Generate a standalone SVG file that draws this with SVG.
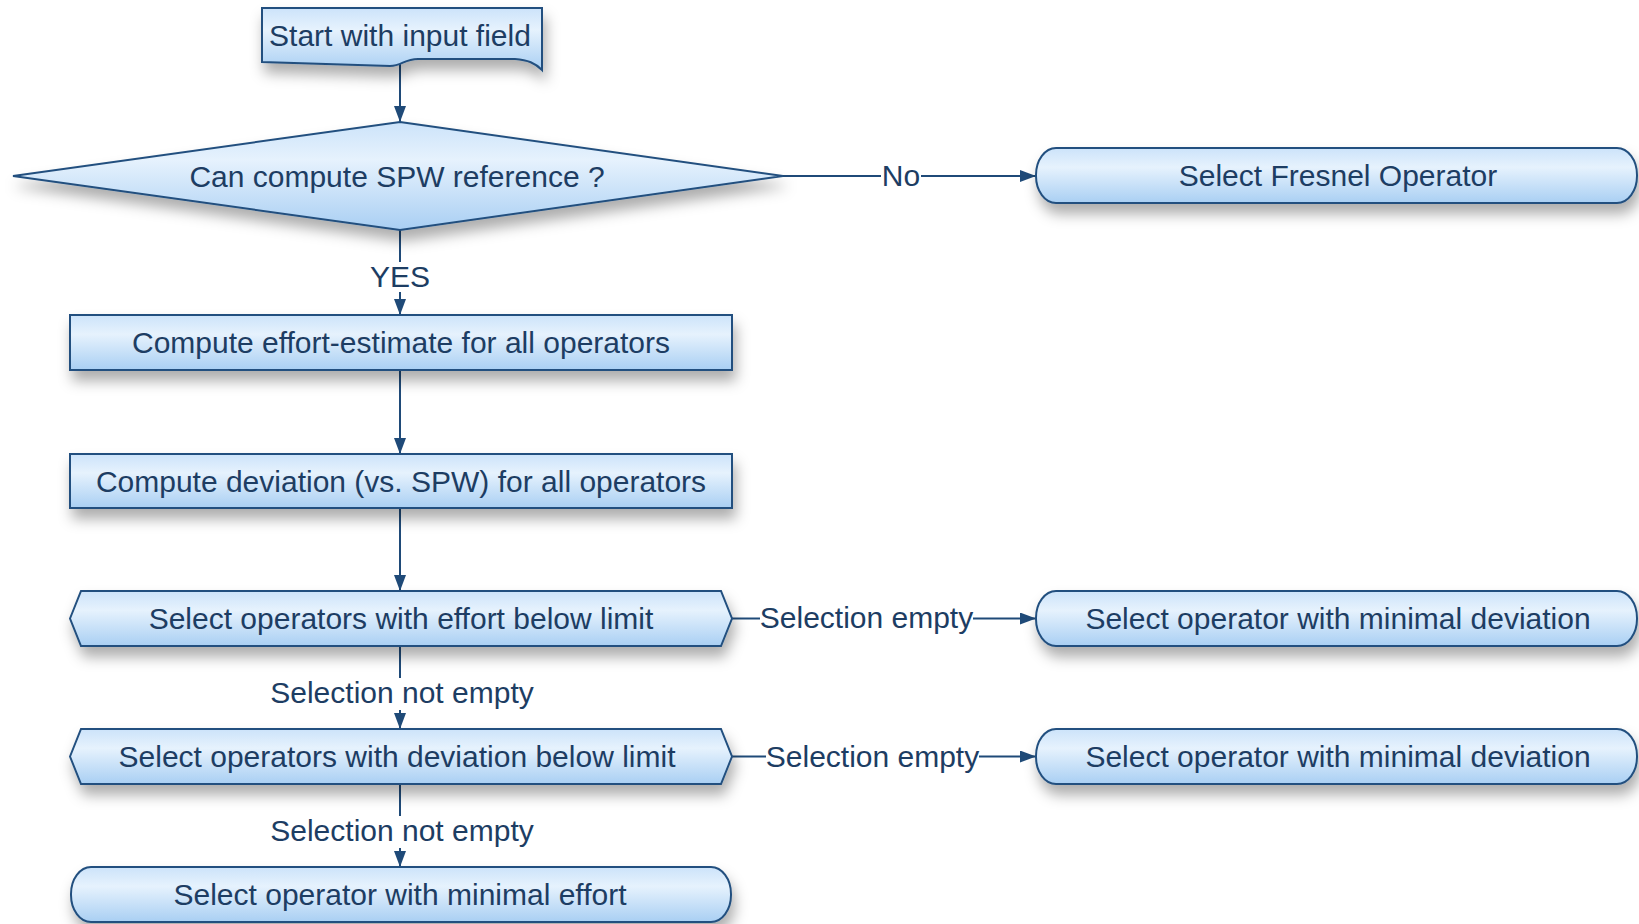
<svg xmlns="http://www.w3.org/2000/svg" width="1639" height="924" viewBox="0 0 1639 924">
<style>
.node{fill:url(#fillGrad);stroke:#23507f;stroke-width:2;filter:url(#shadow)}
.txt{font-family:"Liberation Sans",Arial,sans-serif;font-size:30px;fill:#1d3d63;text-anchor:middle}
.lbl{font-family:"Liberation Sans",Arial,sans-serif;font-size:30px;fill:#1d3d63;text-anchor:middle}
.conn{stroke:#1f4a78;stroke-width:2;fill:none}
.arr{marker-end:url(#arrow)}
</style>
<defs>
<linearGradient id="fillGrad" x1="0" y1="0" x2="0" y2="1">
<stop offset="0" stop-color="#cce3fa"/>
<stop offset="0.35" stop-color="#e6f2fd"/>
<stop offset="1" stop-color="#a9cff3"/>
</linearGradient>
<filter id="shadow" x="-10%" y="-40%" width="120%" height="200%">
<feDropShadow dx="3" dy="10" stdDeviation="7" flood-color="#000" flood-opacity="0.32"/>
</filter>
<marker id="arrow" viewBox="0 0 16 12" refX="16" refY="6" markerWidth="16" markerHeight="12" markerUnits="userSpaceOnUse" orient="auto">
<path d="M0,0 L16,6 L0,12 Z" fill="#1f4a78"/>
</marker>
</defs>

<g id="connectors">
<line class="conn arr" x1="400" y1="61" x2="400" y2="122"/>
<line class="conn" x1="783" y1="176" x2="881" y2="176"/>
<line class="conn arr" x1="921" y1="176" x2="1036" y2="176"/>
<line class="conn" x1="400" y1="230" x2="400" y2="262"/>
<line class="conn arr" x1="400" y1="292" x2="400" y2="315"/>
<line class="conn arr" x1="400" y1="370" x2="400" y2="454"/>
<line class="conn arr" x1="400" y1="508" x2="400" y2="591"/>
<line class="conn" x1="732" y1="618.5" x2="760" y2="618.5"/>
<line class="conn arr" x1="973" y1="618.5" x2="1036" y2="618.5"/>
<line class="conn" x1="400" y1="646" x2="400" y2="678"/>
<line class="conn arr" x1="400" y1="710" x2="400" y2="729"/>
<line class="conn" x1="732" y1="756.5" x2="766" y2="756.5"/>
<line class="conn arr" x1="979" y1="756.5" x2="1036" y2="756.5"/>
<line class="conn" x1="400" y1="784" x2="400" y2="816"/>
<line class="conn arr" x1="400" y1="848" x2="400" y2="867"/>
<text class="lbl" x="901" y="186">No</text>
<text class="lbl" x="400" y="287">YES</text>
<text class="lbl" x="866.5" y="628">Selection empty</text>
<text class="lbl" x="402" y="703">Selection not empty</text>
<text class="lbl" x="872.5" y="767">Selection empty</text>
<text class="lbl" x="402" y="841">Selection not empty</text>
</g>

<g id="start">
<path class="node" d="M262,8 H542 V70 C535,63 528,60 515,59 L418,59 C404,59 402,66 390,66 L262,62 Z"/>
<text class="txt" x="400" y="46">Start with input field</text>
</g>

<g id="decision">
<path class="node" d="M400,122 L783,176 L400,230 L13,176 Z"/>
<text class="txt" x="397" y="186.5">Can compute SPW reference ?</text>
</g>

<g id="fresnel">
<rect class="node" x="1036" y="148" width="601" height="55" rx="20" ry="27"/>
<text class="txt" x="1338" y="186">Select Fresnel Operator</text>
</g>

<g id="effortEstimate">
<rect class="node" x="70" y="315" width="662" height="55"/>
<text class="txt" x="401" y="353">Compute effort-estimate for all operators</text>
</g>

<g id="deviation">
<rect class="node" x="70" y="454" width="662" height="54"/>
<text class="txt" x="401" y="491.5">Compute deviation (vs. SPW) for all operators</text>
</g>

<g id="effortBelow">
<path class="node" d="M70,618.5 L81,591 H721 L732,618.5 L721,646 H81 Z"/>
<text class="txt" x="401" y="629">Select operators with effort below limit</text>
</g>

<g id="minDev1">
<rect class="node" x="1036" y="591" width="601" height="55" rx="20" ry="27"/>
<text class="txt" x="1338" y="628.5">Select operator with minimal deviation</text>
</g>

<g id="deviationBelow">
<path class="node" d="M70,756.5 L81,729 H721 L732,756.5 L721,784 H81 Z"/>
<text class="txt" x="397" y="767">Select operators with deviation below limit</text>
</g>

<g id="minDev2">
<rect class="node" x="1036" y="729" width="601" height="55" rx="20" ry="27"/>
<text class="txt" x="1338" y="767">Select operator with minimal deviation</text>
</g>

<g id="minEffort">
<rect class="node" x="71" y="867" width="660" height="55" rx="20" ry="27"/>
<text class="txt" x="400" y="905">Select operator with minimal effort</text>
</g>
</svg>
